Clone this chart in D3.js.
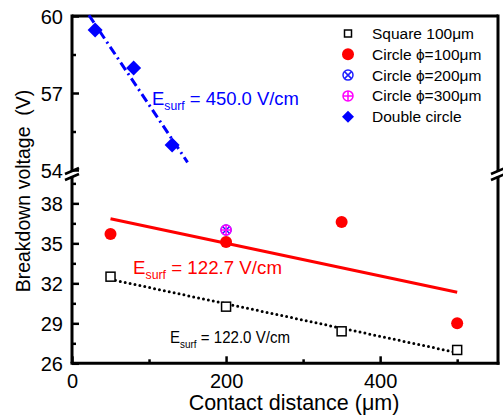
<!DOCTYPE html>
<html><head><meta charset="utf-8">
<script src="https://cdn.jsdelivr.net/npm/d3@7/dist/d3.min.js"></script>
<style>body{margin:0;background:#fff}svg{font-family:"Liberation Sans",Arial,sans-serif}</style>
</head><body><svg id="c" width="503" height="419"></svg>
<script>
// Data
const squareX = [50, 200, 350, 500];
const squareY = [32.5, 30.25, 28.4, 27.0];
const circle100X = [50, 200, 350, 500];
const circle100Y = [35.7, 35.1, 36.6, 29.0];
const circle200X = [200];
const circle200Y = [36.0];
const circle300X = [200];
const circle300Y = [36.0];
const doubleX = [30, 80, 130];
const doubleY = [59.45, 57.97, 54.97];
const fitDouble = {x: [22, 150], y: [60.03, 54.3]};
const fitCircle = {x: [50, 500], y: [36.85, 31.33]};
const fitSquare = {x: [50, 500], y: [32.3, 26.8]};
const xTicks = [0, 200, 400];
const xMinor = [100, 300, 500];
const yTicksUpper = [54, 57, 60];
const yMinorUpper = [55.5, 58.5];
const yTicksLower = [26, 29, 32, 35, 38];
const yMinorLower = [27.5, 30.5, 33.5, 36.5, 39.5];
const legendLabels = ["Square 100\u03bcm", "Circle \u03d5=100\u03bcm", "Circle \u03d5=200\u03bcm", "Circle \u03d5=300\u03bcm", "Double circle"];

const svg = d3.select("#c");
const L = 72, R = 498, T = 16, B = 363.3;
const x = d3.scaleLinear().domain([0, 553]).range([L, R]);
const yU = d3.scaleLinear().domain([54, 60]).range([170, T]);
const yL = d3.scaleLinear().domain([26, 40]).range([B, 176.7]);
const y = v => v >= 50 ? yU(v) : yL(v);

// Axes (inward ticks)
const g = svg.append("g");
function yAxis(scale, ticks, minor) {
  const a = g.append("g").attr("transform", `translate(${L},0)`)
    .call(d3.axisLeft(scale).tickValues(ticks).tickSize(-7).tickPadding(9).tickFormat(d3.format("d")));
  a.select(".domain").remove();
  a.selectAll("line").attr("stroke", "#000").attr("stroke-width", 2.5);
  a.selectAll("text").attr("font-size", 20).attr("fill", "#000").attr("dy", "0.35em");
  const m = g.append("g").attr("transform", `translate(${L},0)`)
    .call(d3.axisLeft(scale).tickValues(minor).tickSize(-4).tickFormat(""));
  m.select(".domain").remove();
  m.selectAll("line").attr("stroke", "#000").attr("stroke-width", 2.5);
}
yAxis(yU, yTicksUpper, yMinorUpper);
yAxis(yL, yTicksLower, yMinorLower);

const xa = g.append("g").attr("transform", `translate(0,${B})`)
  .call(d3.axisBottom(x).tickValues(xTicks).tickSize(-7).tickPadding(11));
xa.select(".domain").remove();
xa.selectAll("line").attr("stroke", "#000").attr("stroke-width", 2.5);
xa.selectAll("text").attr("font-size", 20).attr("fill", "#000");
const xm = g.append("g").attr("transform", `translate(0,${B})`)
  .call(d3.axisBottom(x).tickValues(xMinor).tickSize(-4).tickFormat(""));
xm.select(".domain").remove();
xm.selectAll("line").attr("stroke", "#000").attr("stroke-width", 2.5);

// Frame with breaks
const fr = svg.append("g").attr("stroke", "#000").attr("stroke-width", 3).attr("fill", "none");
fr.append("path").attr("d", `M${L},${T}H${R}`);
fr.append("path").attr("d", `M${L-1.5},${B}H${R+1.5}`);
fr.append("path").attr("d", `M${L},${T-1.5}V171.5M${L},176.5V${B}`);
fr.append("path").attr("d", `M${R},${T-1.5}V171.5M${R},176.5V${B+1.5}`);
[L, R].forEach(px => {
  fr.append("path").attr("d", `M${px-7},${174}L${px+7},${168}M${px-7},${180}L${px+7},${174}`).attr("stroke-width", 2.5);
});

// Fit lines
const line = d3.line().x(d => x(d[0])).y(d => y(d[1]));
svg.append("path").datum(d3.zip(fitDouble.x, fitDouble.y)).attr("d", line)
  .attr("stroke", "#0000ff").attr("stroke-width", 3).attr("fill", "none").attr("stroke-dasharray", "9,4,2,4");
svg.append("path").datum(d3.zip(fitCircle.x, fitCircle.y)).attr("d", line)
  .attr("stroke", "#ff0000").attr("stroke-width", 3).attr("fill", "none");
svg.append("path").datum(d3.zip(fitSquare.x, fitSquare.y)).attr("d", line)
  .attr("stroke", "#000").attr("stroke-width", 3).attr("fill", "none").attr("stroke-dasharray", "0,5").attr("stroke-linecap", "round");

// Markers
function drawSquare(sel, cx, cy) {
  sel.append("rect").attr("x", cx - 4.5).attr("y", cy - 4.5).attr("width", 9).attr("height", 9)
    .attr("fill", "#fff").attr("stroke", "#000").attr("stroke-width", 1.5);
}
function drawCircle(sel, cx, cy) {
  sel.append("circle").attr("cx", cx).attr("cy", cy).attr("r", 6).attr("fill", "#ff0000");
}
function drawCircleX(sel, cx, cy) {
  sel.append("circle").attr("cx", cx).attr("cy", cy).attr("r", 5).attr("fill", "none").attr("stroke", "#2020ff").attr("stroke-width", 1.5);
  sel.append("path").attr("d", `M${cx-3.5},${cy-3.5}L${cx+3.5},${cy+3.5}M${cx-3.5},${cy+3.5}L${cx+3.5},${cy-3.5}`).attr("stroke", "#2020ff").attr("stroke-width", 1.5);
}
function drawCirclePlus(sel, cx, cy) {
  sel.append("circle").attr("cx", cx).attr("cy", cy).attr("r", 5).attr("fill", "none").attr("stroke", "#ff00ff").attr("stroke-width", 1.5);
  sel.append("path").attr("d", `M${cx-5},${cy}H${cx+5}M${cx},${cy-5}V${cy+5}`).attr("stroke", "#ff00ff").attr("stroke-width", 1.5);
}
function drawDiamond(sel, cx, cy) {
  sel.append("path").attr("d", `M${cx},${cy-7.5}L${cx+7.5},${cy}L${cx},${cy+7.5}L${cx-7.5},${cy}Z`).attr("fill", "#0000ff");
}
const mk = svg.append("g");
squareX.forEach((d, i) => drawSquare(mk, x(d), y(squareY[i])));
circle100X.forEach((d, i) => drawCircle(mk, x(d), y(circle100Y[i])));
circle200X.forEach((d, i) => drawCircleX(mk, x(d), y(circle200Y[i])));
circle300X.forEach((d, i) => drawCirclePlus(mk, x(d), y(circle300Y[i])));
doubleX.forEach((d, i) => drawDiamond(mk, x(d), y(doubleY[i])));

// Annotations
function esurf(px, py, val, color, fs, w) {
  const t = svg.append("text").attr("x", px).attr("y", py).attr("fill", color).attr("font-size", fs)
    .attr("textLength", w).attr("lengthAdjust", "spacingAndGlyphs");
  t.append("tspan").text("E");
  t.append("tspan").attr("font-size", fs * 0.66).attr("dy", 5).text("surf");
  t.append("tspan").attr("dy", -5).text(" = " + val + " V/cm");
}
esurf(152, 105, "450.0", "#0000ff", 18.5, 147);
esurf(133, 274, "122.7", "#ff0000", 18.5, 149);
esurf(170, 343, "122.0", "#000", 16.5, 120);

// Legend
const lg = svg.append("g");
const fns = [drawSquare, drawCircle, drawCircleX, drawCirclePlus, drawDiamond];
legendLabels.forEach((lab, i) => {
  const ly = 33.5 + i * 20.8;
  const s = lg.append("g");
  fns[i](s, 348, ly);
  if (i === 0) s.select("rect").attr("x", 344.5).attr("y", ly - 3.5).attr("width", 7).attr("height", 7);
  if (i === 4) s.select("path").attr("d", `M348,${ly-6}L354,${ly}L348,${ly+6}L342,${ly}Z`);
  lg.append("text").attr("x", 372).attr("y", ly).attr("dy", "0.35em").attr("font-size", 15.5).attr("fill", "#000").text(lab);
});

// Axis titles
svg.append("text").attr("x", 294).attr("y", 410).attr("text-anchor", "middle").attr("font-size", 21.5).text("Contact distance (\u03bcm)");
svg.append("text").attr("transform", "translate(30,191) rotate(-90)").attr("text-anchor", "middle").attr("font-size", 19.5)
  .attr("xml:space", "preserve").style("white-space", "pre").text("Breakdown voltage  (V)");
</script></body></html>
